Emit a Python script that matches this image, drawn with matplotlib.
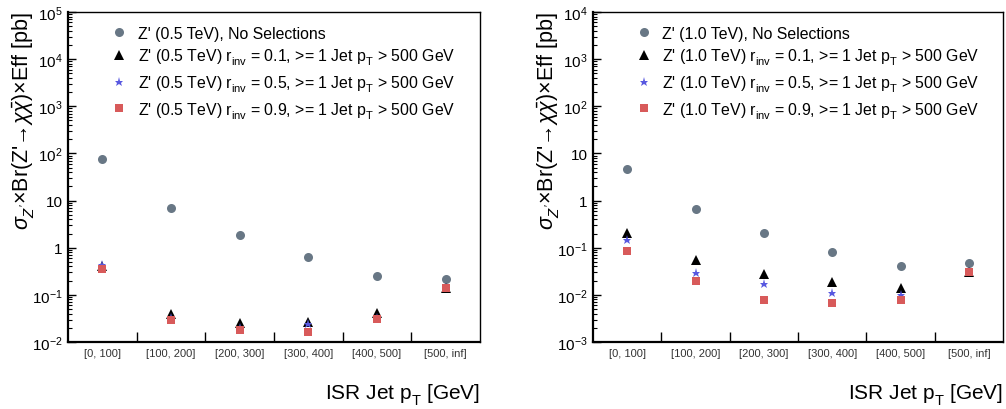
import matplotlib
matplotlib.use("Agg")
import matplotlib.pyplot as plt
import numpy as np
from matplotlib.ticker import FixedLocator, LogLocator, FuncFormatter, NullFormatter

try:
    import matplotlib._mathtext as _mt
    _mt.FontConstantsBase.sub1 = 0.55
    _mt.FontConstantsBase.sub2 = 0.7
except Exception:
    pass

plt.rcParams['font.family'] = ['Liberation Sans', 'DejaVu Sans']
plt.rcParams['mathtext.fontset'] = 'custom'
plt.rcParams['mathtext.rm'] = 'Liberation Sans'
plt.rcParams['mathtext.it'] = 'Liberation Sans:italic'
plt.rcParams['mathtext.bf'] = 'Liberation Sans:bold'
plt.rcParams['mathtext.sf'] = 'Liberation Sans'

bins = ["[0, 100]", "[100, 200]", "[200, 300]", "[300, 400]", "[400, 500]", "[500, inf]"]

# Z' 0.5 TeV
m05_nosel = [78, 7.0, 1.85, 0.63, 0.255, 0.22]
m05_r01 = [0.40, 0.040, 0.0255, 0.026, 0.042, 0.14]
m05_r05 = [0.42, 0.032, 0.020, 0.024, 0.033, 0.14]
m05_r09 = [0.35, 0.0295, 0.0184, 0.0167, 0.031, 0.14]

# Z' 1.0 TeV
m10_nosel = [4.73, 0.655, 0.203, 0.082, 0.041, 0.0466]
m10_r01 = [0.206, 0.0537, 0.0283, 0.0192, 0.014, 0.030]
m10_r05 = [0.143, 0.0288, 0.0166, 0.011, 0.010, 0.030]
m10_r09 = [0.086, 0.0199, 0.0077, 0.0066, 0.0077, 0.030]

C_CIRC = '#687785'
C_TRI = '#000000'
C_STAR = '#5858e0'
C_SQ = '#d85a5a'

fig = plt.figure(figsize=(10.06, 4.10), dpi=100)
W, H = 1006.0, 410.0

def yfmt(v, pos):
    e = int(round(np.log10(v)))
    if e == 0:
        return "1"
    if e == 1:
        return "10"
    return r"$10^{%d}$" % e

def make_panel(left_px, right_px, ylo, yhi, data, mass, ylab_x):
    ax = fig.add_axes([left_px / W, 1 - 343 / H, (right_px - left_px) / W, 330 / H])
    x = np.arange(len(bins)) + 0.5
    nosel, r01, r05, r09 = data
    ax.plot(x, nosel, 'o', color=C_CIRC, ms=6.5, mew=0, ls='none',
            label="Z' (%s TeV), No Selections" % mass)
    ax.plot(x, r01, '^', color=C_TRI, ms=6.5, mew=0, ls='none',
            label=r"Z' (%s TeV) r$_{\mathrm{inv}}$ = 0.1, >= 1 Jet p$_{\mathrm{T}}$ > 500 GeV" % mass)
    ax.plot(x, r05, '*', color=C_STAR, ms=6.5, mew=0, ls='none',
            label=r"Z' (%s TeV) r$_{\mathrm{inv}}$ = 0.5, >= 1 Jet p$_{\mathrm{T}}$ > 500 GeV" % mass)
    ax.plot(x, r09, 's', color=C_SQ, ms=6.0, mew=0, ls='none',
            label=r"Z' (%s TeV) r$_{\mathrm{inv}}$ = 0.9, >= 1 Jet p$_{\mathrm{T}}$ > 500 GeV" % mass)
    ax.set_yscale('log')
    ax.set_ylim(ylo, yhi)
    ax.set_xlim(0, len(bins))

    ax.xaxis.set_major_locator(FixedLocator(np.arange(1, len(bins))))
    ax.xaxis.set_major_formatter(NullFormatter())
    ax.xaxis.set_minor_locator(FixedLocator(x))
    ax.set_xticklabels(bins, minor=True)
    ax.tick_params(axis='x', which='major', direction='in', length=7.5, width=1.0,
                   bottom=True, top=False)
    ax.tick_params(axis='x', which='minor', length=0, pad=4, labelsize=8,
                   labelcolor='#333333')

    ax.yaxis.set_major_locator(LogLocator(base=10, numticks=20))
    ax.yaxis.set_minor_locator(LogLocator(base=10, subs=np.arange(2, 10), numticks=20))
    ax.yaxis.set_major_formatter(FuncFormatter(yfmt))
    ax.yaxis.set_minor_formatter(NullFormatter())
    ax.tick_params(axis='y', which='major', direction='in', length=6, width=1.0,
                   left=True, right=False, labelsize=11, pad=4)
    ax.tick_params(axis='y', which='minor', direction='in', length=3, width=0.8,
                   left=True, right=False)

    for s in ['left', 'bottom']:
        ax.spines[s].set_linewidth(1.6)
    for s in ['top', 'right']:
        ax.spines[s].set_linewidth(1.0)

    ax.legend(loc='upper left', bbox_to_anchor=(0.1, 0.968), frameon=False,
              fontsize=11.4, handlelength=0.9, handletextpad=0.7, labelspacing=0.36,
              borderaxespad=0, borderpad=0.2, numpoints=1)

    fig.text(ylab_x / W, 1 - 12 / H,
             "$\\sigma_{Z'}$\u00d7Br(Z'\u2192$\\chi\\bar{\\chi}$)\u00d7Eff [pb]",
             rotation=90, ha='center', va='top', fontsize=15.5)
    fig.text(right_px / W, 1 - 400 / H, r"ISR Jet p$_{\mathrm{T}}$ [GeV]",
             ha='right', va='baseline', fontsize=15)
    return ax

make_panel(68, 480, 1e-2, 1e5, (m05_nosel, m05_r01, m05_r05, m05_r09), "0.5", 24)
make_panel(593, 1003, 1e-3, 1e4, (m10_nosel, m10_r01, m10_r05, m10_r09), "1.0", 549)

fig.savefig("out.png", dpi=100)
